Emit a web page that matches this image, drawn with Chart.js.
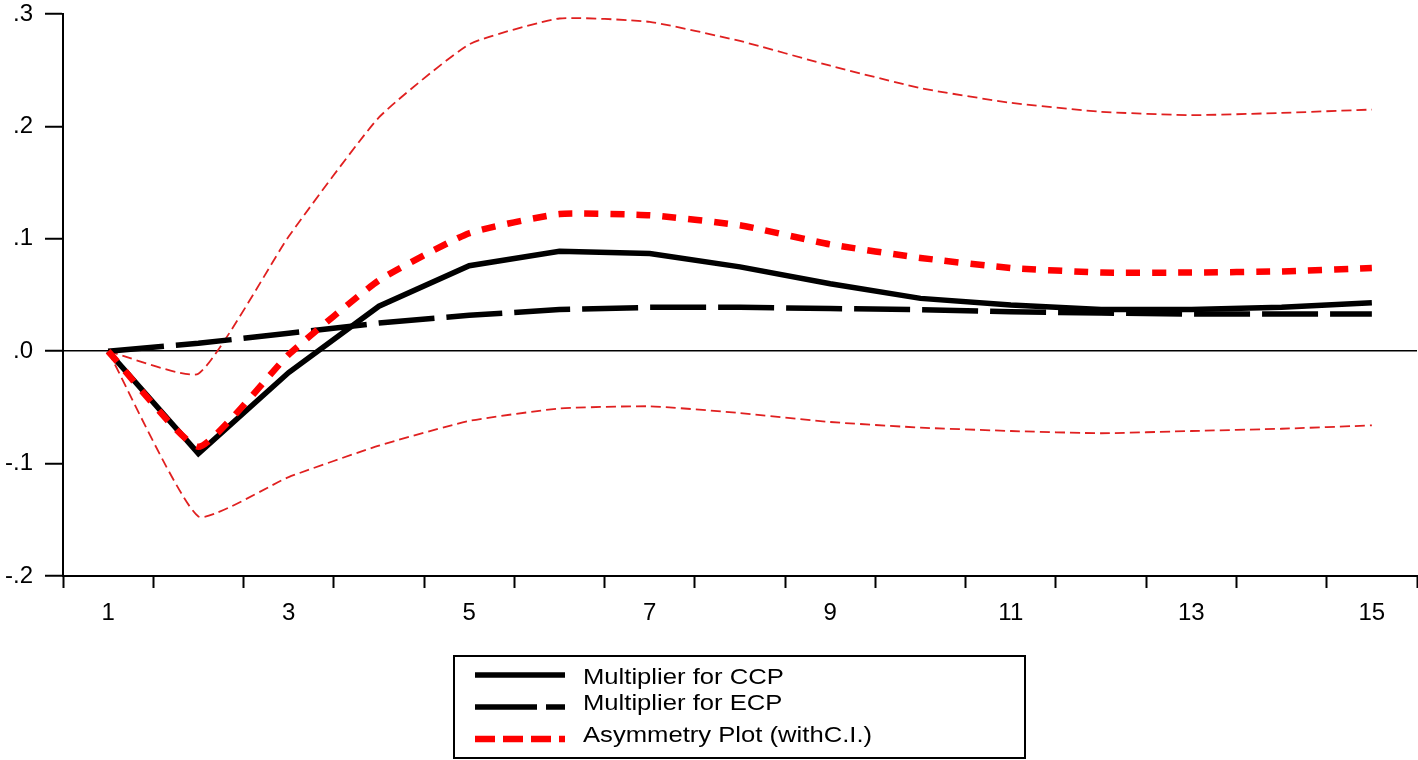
<!DOCTYPE html>
<html><head><meta charset="utf-8">
<script src="https://cdn.jsdelivr.net/npm/chart.js@4/dist/chart.umd.min.js"></script>
<style>html,body{margin:0;padding:0;background:#fff;}#wrap{width:1418px;height:760px;position:relative;}</style>
</head><body><div id="wrap"><canvas id="c" width="1418" height="760"></canvas></div>
<script>
const periods   = [1,2,3,4,5,6,7,8,9,10,11,12,13,14,15];
const ccp       = [0,-0.091,-0.019,0.040,0.076,0.089,0.087,0.075,0.060,0.047,0.041,0.037,0.037,0.039,0.043];
const ecp       = [0,0.007,0.016,0.025,0.032,0.037,0.039,0.039,0.038,0.037,0.035,0.034,0.033,0.033,0.033];
const asym      = [0,-0.085,-0.003,0.063,0.105,0.122,0.121,0.112,0.095,0.083,0.074,0.070,0.070,0.071,0.074];
const asymUpper = [0,-0.020,0.102,0.208,0.273,0.296,0.293,0.276,0.254,0.234,0.221,0.213,0.210,0.212,0.215];
const asymLower = [0,-0.147,-0.112,-0.084,-0.062,-0.051,-0.049,-0.055,-0.063,-0.068,-0.071,-0.073,-0.071,-0.069,-0.066];
const xTickLabels = [1,3,5,7,9,11,13,15];
const yTickValues = [-0.2,-0.1,0,0.1,0.2,0.3];
const legendLabels = ['Multiplier for CCP','Multiplier for ECP','Asymmetry Plot (withC.I.)'];

const pts = arr => periods.map((p,i)=>({x:p,y:arr[i]}));
const FONT = '"Liberation Sans", Arial, Helvetica, sans-serif';
Chart.defaults.font.family = FONT;
Chart.defaults.font.size = 24;
Chart.defaults.color = '#000';

function fmtY(v){
  const r = Math.round(v*10);
  if (r===0) return '.0';
  return (r<0?'-':'') + '.' + Math.abs(r);
}

const legendPlugin = {
  id:'boxLegend',
  afterDraw(chart){
    const ctx = chart.ctx;
    ctx.save();
    ctx.lineWidth = 2; ctx.strokeStyle = '#000';
    ctx.strokeRect(454, 656, 571, 102);
    const entries = [
      {label:legendLabels[0], color:'#000', width:5.5, dash:[], y:675, ty:684},
      {label:legendLabels[1], color:'#000', width:5.5, dash:[62,9], y:707, ty:710},
      {label:legendLabels[2], color:'#ff0000', width:6.5, dash:[20,8], y:739, ty:742}
    ];
    entries.forEach(e=>{
      ctx.beginPath();
      ctx.setLineDash(e.dash);
      ctx.lineCap='butt';
      ctx.lineWidth=e.width; ctx.strokeStyle=e.color;
      ctx.moveTo(475,e.y); ctx.lineTo(565,e.y); ctx.stroke();
      ctx.setLineDash([]);
      ctx.save();
      ctx.translate(583,e.ty);
      ctx.scale(1.165,1);
      ctx.font = '22px '+FONT;
      ctx.fillStyle='#000';
      ctx.textBaseline='alphabetic';
      ctx.fillText(e.label,0,0);
      ctx.restore();
    });
    ctx.restore();
  }
};

new Chart(document.getElementById('c'),{
  type:'line',
  data:{datasets:[
    {label:legendLabels[2], data:pts(asym), borderColor:'#ff0000', borderWidth:6.5, borderDash:[14,12], tension:0.15, pointRadius:0, fill:false},
    {label:legendLabels[0], data:pts(ccp), borderColor:'#000', borderWidth:5.5, tension:0, pointRadius:0, fill:false},
    {label:legendLabels[1], data:pts(ecp), borderColor:'#000', borderWidth:5.5, borderDash:[56,12], tension:0, pointRadius:0, fill:false},
    {label:'Upper C.I.', data:pts(asymUpper), borderColor:'#e02020', borderWidth:1.8, borderDash:[10,5], tension:0.15, pointRadius:0, fill:false},
    {label:'Lower C.I.', data:pts(asymLower), borderColor:'#e02020', borderWidth:1.8, borderDash:[10,5], tension:0.15, pointRadius:0, fill:false}
  ]},
  options:{
    responsive:false, animation:false, devicePixelRatio:1,
    layout:{padding:{top:14,right:1,bottom:134,left:0}},
    plugins:{legend:{display:false}, tooltip:{enabled:false}},
    scales:{
      x:{type:'linear', min:0.5, max:15.5,
        afterFit(s){ s.height = 50; s.paddingLeft = 0; s.paddingRight = 0; },
        ticks:{stepSize:0.5, autoSkip:false, maxRotation:0, minRotation:0, padding:11, color:'#000',
          font:{family:FONT, size:24},
          callback:v => xTickLabels.includes(v) ? String(v) : ''},
        grid:{drawOnChartArea:false, tickLength:12, tickWidth:2,
          tickColor: c => (c.tick && Math.abs(c.tick.value % 1) > 0.1) ? '#000' : 'rgba(0,0,0,0)'},
        border:{display:true, color:'#000', width:2}
      },
      y:{min:-0.2, max:0.3,
        afterFit(s){ s.width = 63; s.paddingTop = 0; s.paddingBottom = 0; },
        afterBuildTicks(s){ s.ticks = yTickValues.map(v=>({value:v})); },
        ticks:{padding:12, color:'#000', font:{family:FONT, size:24}, callback:v=>fmtY(v)},
        grid:{drawOnChartArea:true, tickLength:18, tickWidth:2, tickColor:'#000',
          lineWidth:1.5,
          color: c => (c.tick && Math.abs(c.tick.value) < 1e-9) ? '#000' : 'rgba(0,0,0,0)'},
        border:{display:true, color:'#000', width:2}
      }
    }
  },
  plugins:[legendPlugin]
});
</script></body></html>
